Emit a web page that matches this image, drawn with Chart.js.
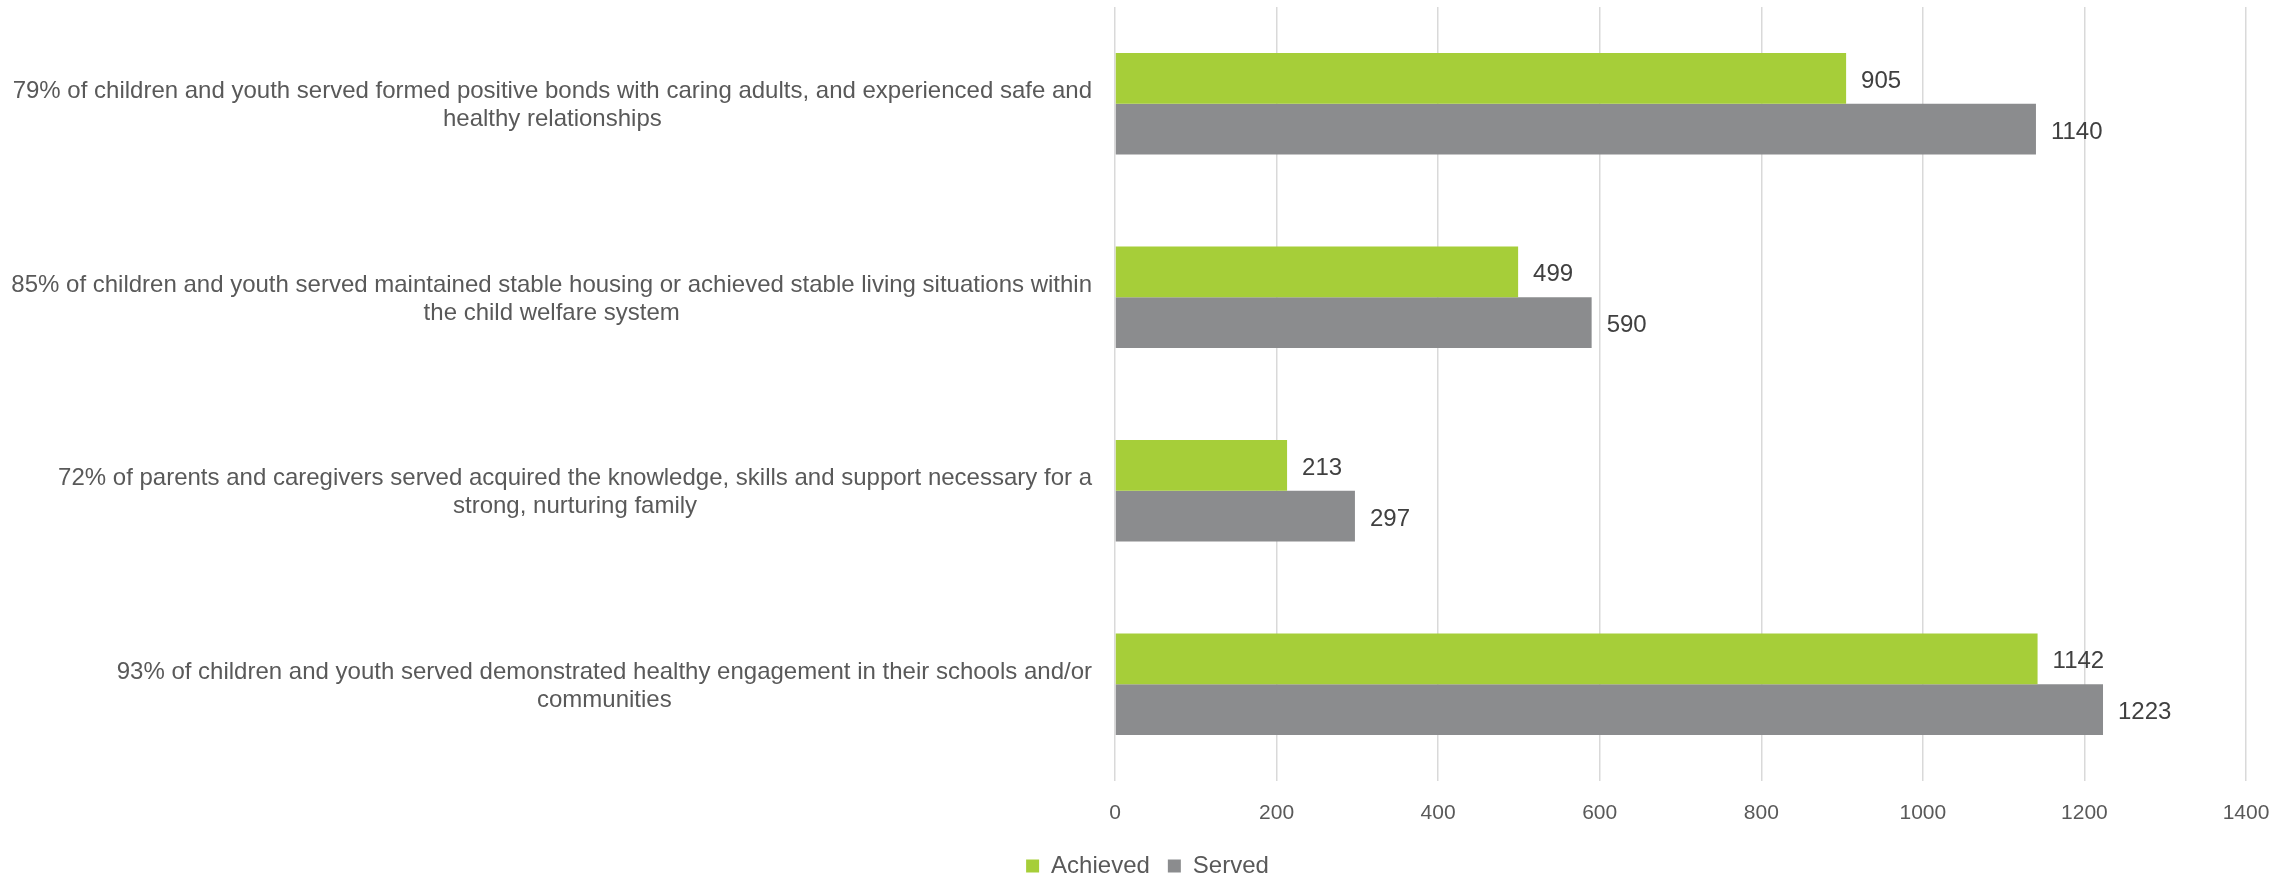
<!DOCTYPE html>
<html>
<head>
<meta charset="utf-8">
<script src="https://cdn.jsdelivr.net/npm/chart.js@4/dist/chart.umd.min.js"></script>
<style>
  html, body { margin: 0; padding: 0; background: #fff; }
  #wrap { width: 2295px; height: 876px; }
</style>
</head>
<body>
<div id="wrap"><canvas id="outcomes"></canvas></div>
<script>
const outcomeLabels = [
    ['79% of children and youth served formed positive bonds with caring adults, and experienced safe and', 'healthy relationships'],
    ['85% of children and youth served maintained stable housing or achieved stable living situations within', 'the child welfare system'],
    ['72% of parents and caregivers served acquired the knowledge, skills and support necessary for a', 'strong, nurturing family'],
    ['93% of children and youth served demonstrated healthy engagement in their schools and/or', 'communities']
];
const achieved = [905, 499, 213, 1142];
const served = [1140, 590, 297, 1223];
const xTicks = [0, 200, 400, 600, 800, 1000, 1200, 1400];

const colours = {
    achieved: '#a6ce39',
    served: '#8b8c8e',
    text: '#595959',
    value: '#404040',
    grid: '#d9d9d9'
};
const fontFamily = '"Liberation Sans", Arial, sans-serif';

// category text: block sits right of the axis, each line centred inside the block
const categoryText = {
    id: 'categoryText',
    afterDraw(chart) {
        const ctx = chart.ctx;
        const yScale = chart.scales.y;
        const right = chart.chartArea.left - 23;
        const lineH = 28;
        ctx.save();
        ctx.font = '24px ' + fontFamily;
        ctx.fillStyle = colours.text;
        ctx.textAlign = 'center';
        ctx.textBaseline = 'middle';
        outcomeLabels.forEach((lines, i) => {
            const widest = Math.max(...lines.map(l => ctx.measureText(l).width));
            const cx = right - widest / 2;
            const cy = yScale.getPixelForValue(i) + 2;
            lines.forEach((l, j) => {
                ctx.fillText(l, cx, cy + (j - (lines.length - 1) / 2) * lineH);
            });
        });
        ctx.restore();
    }
};

// value printed just past the end of each bar
const barValues = {
    id: 'barValues',
    afterDatasetsDraw(chart) {
        const ctx = chart.ctx;
        ctx.save();
        ctx.font = '24px ' + fontFamily;
        ctx.fillStyle = colours.value;
        ctx.textAlign = 'left';
        ctx.textBaseline = 'middle';
        chart.data.datasets.forEach((ds, di) => {
            chart.getDatasetMeta(di).data.forEach((bar, i) => {
                ctx.fillText(String(ds.data[i]), bar.x + 15, bar.y + 3);
            });
        });
        ctx.restore();
    }
};

const ctx = document.getElementById('outcomes').getContext('2d');
const myChart = new Chart(ctx, {
    type: 'bar',
    data: {
        labels: outcomeLabels,
        datasets: [{
            label: 'Achieved',
            data: achieved,
            backgroundColor: colours.achieved,
            borderWidth: 0
        }, {
            label: 'Served',
            data: served,
            backgroundColor: colours.served,
            borderWidth: 0
        }]
    },
    options: {
        indexAxis: 'y',
        responsive: true,
        maintainAspectRatio: false,
        animation: false,
        datasets: {
            bar: {
                categoryPercentage: 0.525,
                barPercentage: 1
            }
        },
        layout: {
            padding: { top: 7, right: 49, left: 49, bottom: -12 }
        },
        scales: {
            x: {
                min: 0,
                max: 1400,
                afterBuildTicks: (scale) => {
                    scale.ticks = xTicks.map(v => ({ value: v }));
                },
                afterFit: (scale) => { scale.height = 55; },
                grid: {
                    color: colours.grid,
                    lineWidth: 1.5,
                    drawTicks: false
                },
                border: { display: false },
                ticks: {
                    color: colours.text,
                    font: { family: fontFamily, size: 21 },
                    padding: 20,
                    callback: (v) => String(v)
                }
            },
            y: {
                afterFit: (scale) => { scale.width = 1066; },
                grid: { display: false },
                border: { display: false },
                ticks: { display: false }
            }
        },
        plugins: {
            legend: {
                position: 'bottom',
                labels: {
                    color: colours.text,
                    font: { family: fontFamily, size: 24 },
                    boxWidth: 13,
                    boxHeight: 13,
                    padding: 18
                }
            },
            tooltip: { enabled: false }
        }
    },
    plugins: [categoryText, barValues]
});
</script>
</body>
</html>
